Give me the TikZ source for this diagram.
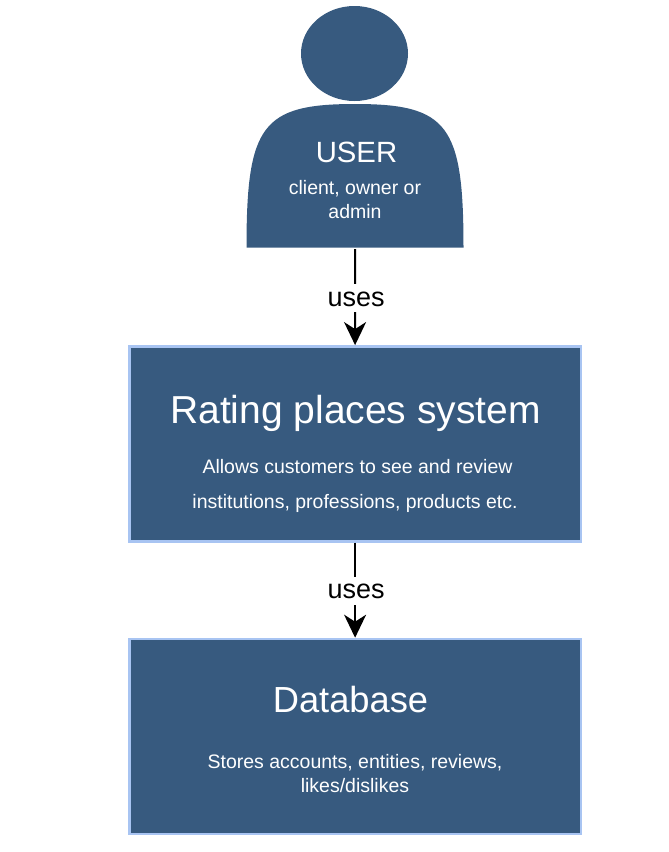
\documentclass[tikz,border=0pt]{standalone}
\usepackage{fontspec}
\setmainfont{Liberation Sans}
\usetikzlibrary{shapes.geometric,arrows.meta}
\definecolor{navy}{HTML}{375A7F}
\definecolor{edgeblue}{HTML}{A8C4F2}
\tikzset{
  sysbox/.style={rectangle,draw=edgeblue,line width=2.6pt,fill=navy,minimum width=451.7pt,minimum height=195pt,inner sep=0pt},
  shape fill/.style={fill=navy,draw=none},
  txt/.style={text=white,inner sep=0pt,align=center},
  conn/.style={draw=black,line width=2pt,-{Stealth[length=23pt,width=22pt,inset=7pt]}},
  lbl/.style={fill=white,text=black,font=\fontsize{27}{27}\selectfont,inner xsep=1pt,inner ysep=0pt,text height=21.8pt,text depth=6.2pt}
}
\begin{document}
\begin{tikzpicture}[x=1pt,y=-1pt]
\useasboundingbox (0,0) rectangle (669,852);
\node[ellipse,shape fill,minimum width=107pt,minimum height=95pt,inner sep=0pt] (head) at (354.5,53.5) {};
\path[shape fill] (246.5,247.5) .. controls (246.5,125) and (262,104) .. (355,104)
  .. controls (448,104) and (463.5,125) .. (463.5,247.5) -- cycle;
\node[rectangle,minimum width=217pt,minimum height=143pt,inner sep=0pt] (user) at (355,176) {};
\node[txt,font=\fontsize{29.3}{29.3}\selectfont] (usertitle) at (356.5,152) {USER};
\node[txt,font=\fontsize{19.5}{24}\selectfont] (usertext) at (355,200) {client, owner or\\admin};
\node[sysbox] (system) at (355.1,443.9) {};
\node[txt,font=\fontsize{39}{39}\selectfont] (systitle) at (355.5,413) {Rating places system};
\node[txt,font=\fontsize{19.5}{34.5}\selectfont] (systext) at (355,486) {\hspace*{5pt}Allows customers to see and review\\institutions, professions, products etc.};
\node[sysbox] (db) at (355.1,736.5) {};
\node[txt,font=\fontsize{36.3}{36.3}\selectfont] (dbtitle) at (350.5,699.5) {Database};
\node[txt,font=\fontsize{19.5}{24}\selectfont] (dbtext) at (355,773.5) {Stores accounts, entities, reviews,\\likes/dislikes};
\draw[conn,shorten <=1.5pt] (user.south) -- (system.north) node[lbl,pos=0.5,xshift=1pt,yshift=-2pt] {uses};
\draw[conn] (system.south) -- (db.north) node[lbl,pos=0.5,xshift=1pt,yshift=-0.7pt] {uses};
\end{tikzpicture}
\end{document}
